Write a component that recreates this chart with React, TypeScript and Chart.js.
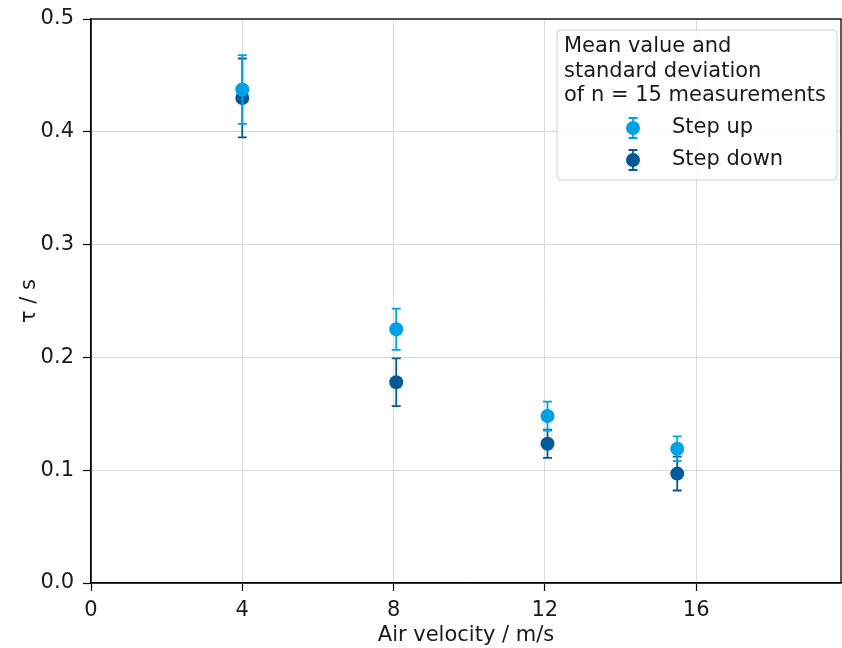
import React, { useEffect, useRef } from 'react';
import { Chart, registerables } from 'chart.js';

Chart.register(...registerables);

const FONT = '"DejaVu Sans", Verdana, sans-serif';
const FONT_SIZE = 21;

// Data
const velocities = [4.0, 8.07, 12.07, 15.5];
const stepUpMean = [0.4375, 0.2249, 0.148, 0.119];
const stepUpStd = [0.0305, 0.0183, 0.0128, 0.011];
const stepDownMean = [0.430, 0.178, 0.1235, 0.097];
const stepDownStd = [0.035, 0.0212, 0.0125, 0.015];

const xTicks = [0, 4, 8, 12, 16];
const yTicks = [0, 0.1, 0.2, 0.3, 0.4, 0.5];
const xMax = 19.83;

const seriesNames = ['Step up', 'Step down'];
const seriesColors = ['#00a0e4', '#005b96'];
const legendTitle = ['Mean value and', 'standard deviation', 'of n = 15 measurements'];
const xTitle = 'Air velocity / m/s';
const yTitle = 'τ / s';

const stds = [stepUpStd, stepDownStd];

const errorBarPlugin = {
  id: 'errorBars',
  beforeDatasetDraw(chart: any, args: any) {
    const i = args.index;
    const ds = chart.data.datasets[i];
    const xs = chart.scales.x;
    const ys = chart.scales.y;
    const ctx = chart.ctx;
    ctx.save();
    ctx.strokeStyle = ds.borderColor;
    ctx.lineWidth = 1.8;
    ds.data.forEach((p: any, k: number) => {
      const px = xs.getPixelForValue(p.x);
      const top = ys.getPixelForValue(p.y + stds[i][k]);
      const bot = ys.getPixelForValue(p.y - stds[i][k]);
      ctx.beginPath();
      ctx.moveTo(px, top);
      ctx.lineTo(px, bot);
      ctx.moveTo(px - 4.5, top);
      ctx.lineTo(px + 4.5, top);
      ctx.moveTo(px - 4.5, bot);
      ctx.lineTo(px + 4.5, bot);
      ctx.stroke();
    });
    ctx.restore();
  },
};

const framePlugin = {
  id: 'frameAndText',
  beforeDatasetsDraw(chart: any) {
    const { ctx, chartArea } = chart;
    ctx.save();
    ctx.strokeStyle = '#000';
    ctx.lineWidth = 1.3;
    ctx.strokeRect(chartArea.left, chartArea.top, chartArea.right - chartArea.left, chartArea.bottom - chartArea.top);
    ctx.fillStyle = '#1a1a1a';
    ctx.font = `${FONT_SIZE}px ${FONT}`;
    ctx.textAlign = 'center';
    ctx.textBaseline = 'middle';
    ctx.fillText(xTitle, (chartArea.left + chartArea.right) / 2, 636);
    ctx.translate(30, (chartArea.top + chartArea.bottom) / 2);
    ctx.rotate(-Math.PI / 2);
    ctx.fillText(yTitle, 0, 0);
    ctx.restore();
  },
  afterDraw(chart: any) {
    const ctx = chart.ctx;
    ctx.save();
    // legend box
    const bx = 557, by = 30, bw = 280, bh = 150, r = 4;
    ctx.beginPath();
    ctx.moveTo(bx + r, by);
    ctx.lineTo(bx + bw - r, by);
    ctx.quadraticCurveTo(bx + bw, by, bx + bw, by + r);
    ctx.lineTo(bx + bw, by + bh - r);
    ctx.quadraticCurveTo(bx + bw, by + bh, bx + bw - r, by + bh);
    ctx.lineTo(bx + r, by + bh);
    ctx.quadraticCurveTo(bx, by + bh, bx, by + bh - r);
    ctx.lineTo(bx, by + r);
    ctx.quadraticCurveTo(bx, by, bx + r, by);
    ctx.closePath();
    ctx.fillStyle = 'rgba(255,255,255,0.8)';
    ctx.fill();
    ctx.strokeStyle = '#d0d0d0';
    ctx.lineWidth = 1;
    ctx.stroke();
    ctx.fillStyle = '#1a1a1a';
    ctx.font = `${FONT_SIZE}px ${FONT}`;
    ctx.textAlign = 'left';
    ctx.textBaseline = 'middle';
    legendTitle.forEach((t, k) => ctx.fillText(t, 564, 47 + k * 24.5));
    seriesNames.forEach((name, k) => {
      const cy = 128 + k * 32;
      const cx = 633;
      ctx.strokeStyle = seriesColors[k];
      ctx.lineWidth = 1.8;
      ctx.beginPath();
      ctx.moveTo(cx, cy - 10);
      ctx.lineTo(cx, cy + 10);
      ctx.moveTo(cx - 4.5, cy - 10);
      ctx.lineTo(cx + 4.5, cy - 10);
      ctx.moveTo(cx - 4.5, cy + 10);
      ctx.lineTo(cx + 4.5, cy + 10);
      ctx.stroke();
      ctx.fillStyle = seriesColors[k];
      ctx.beginPath();
      ctx.arc(cx, cy, 7, 0, Math.PI * 2);
      ctx.fill();
      ctx.fillStyle = '#1a1a1a';
      ctx.fillText(name, 672, cy);
    });
    ctx.restore();
  },
};

export default function App() {
  const ref = useRef<HTMLCanvasElement>(null);
  useEffect(() => {
    if (!ref.current) return;
    const chart = new Chart(ref.current, {
      type: 'scatter',
      data: {
        datasets: [
          {
            label: seriesNames[0],
            data: velocities.map((x, i) => ({ x, y: stepUpMean[i] })),
            backgroundColor: seriesColors[0],
            borderColor: seriesColors[0],
            pointRadius: 7,
            pointBorderWidth: 0,
          },
          {
            label: seriesNames[1],
            data: velocities.map((x, i) => ({ x, y: stepDownMean[i] })),
            backgroundColor: seriesColors[1],
            borderColor: seriesColors[1],
            pointRadius: 7,
            pointBorderWidth: 0,
          },
        ],
      },
      options: {
        responsive: false,
        animation: false,
        layout: { autoPadding: false, padding: { top: 19, right: 1, left: 0, bottom: 0 } },
        plugins: { legend: { display: false }, tooltip: { enabled: false } },
        scales: {
          x: {
            type: 'linear',
            min: 0,
            max: xMax,
            afterBuildTicks: (s: any) => { s.ticks = xTicks.map((v) => ({ value: v })); },
            afterFit: (s: any) => { s.height = 65; s.paddingLeft = 0; s.paddingRight = 0; },
            ticks: {
              color: '#1a1a1a',
              font: { family: FONT, size: FONT_SIZE },
              padding: 7,
              maxRotation: 0,
              callback: (v: any) => String(v),
            },
            grid: { color: '#dadada', lineWidth: 1, tickColor: '#000', tickLength: 8, tickWidth: 1.2 },
            border: { color: '#000', width: 1.3 },
          },
          y: {
            type: 'linear',
            min: 0,
            max: 0.5,
            afterBuildTicks: (s: any) => { s.ticks = yTicks.map((v) => ({ value: v })); },
            afterFit: (s: any) => { s.width = 91; s.paddingTop = 0; s.paddingBottom = 0; },
            ticks: {
              color: '#1a1a1a',
              font: { family: FONT, size: FONT_SIZE },
              padding: 9,
              callback: (v: any) => Number(v).toFixed(1),
            },
            grid: { color: '#dadada', lineWidth: 1, tickColor: '#000', tickLength: 8, tickWidth: 1.2 },
            border: { color: '#000', width: 1.3 },
          },
        },
      },
      plugins: [errorBarPlugin, framePlugin],
    } as any);
    return () => chart.destroy();
  }, []);
  return (
    <div style={{ position: 'fixed', left: 0, top: 0, width: 842, height: 648, background: '#fff' }}>
      <canvas ref={ref} width={842} height={648} style={{ width: 842, height: 648 }} />
    </div>
  );
}
